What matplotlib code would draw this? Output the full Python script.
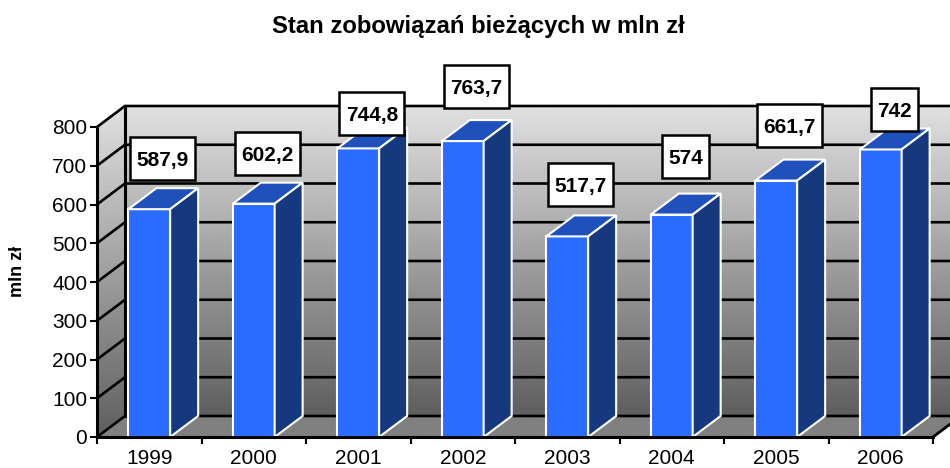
import numpy as np
import matplotlib
matplotlib.use('Agg')
import matplotlib.pyplot as plt
from matplotlib.patches import Polygon, Rectangle

plt.rcParams['font.family'] = ['Liberation Sans', 'DejaVu Sans']

years = ['1999', '2000', '2001', '2002', '2003', '2004', '2005', '2006']
values = [587.9, 602.2, 744.8, 763.7, 517.7, 574, 661.7, 742]
labels = ['587,9', '602,2', '744,8', '763,7', '517,7', '574', '661,7', '742']
# hand placed label boxes, centre above the bar top
label_dy = [130, 129, 89, 142, 133, 151, 143, 102]
yticks = [0, 100, 200, 300, 400, 500, 600, 700, 800]

W, H = 950, 468
px_x = 104.5         # pixels per category
px_y = 0.3875        # pixels per value unit
x0, y0 = 97, 437     # pixel position of the front corner
dx = 28 / px_x       # depth of the 3d box
dy = 21 / px_y
bar_w = 0.40

fig = plt.figure(figsize=(W / 100, H / 100), dpi=100)
ax = fig.add_axes([0, 0, 1, 1])
xlim = (-x0 / px_x, (W - x0) / px_x)
ylim = ((y0 - H) / px_y, y0 / px_y)

# walls
grad = np.linspace(0.88, 0.37, 256).reshape(-1, 1)
back = ax.imshow(grad, cmap='gray', vmin=0, vmax=1, aspect='auto', zorder=1,
                 extent=(dx, 8 + dx, dy, 800 + dy))
side = ax.imshow(grad, cmap='gray', vmin=0, vmax=1, aspect='auto', zorder=1,
                 extent=(0, dx, 0, 800 + dy))
side_poly = Polygon([(0, 0), (dx, dy), (dx, 800 + dy), (0, 800)], fc='none', ec='none',
                    transform=ax.transData)
ax.add_patch(side_poly)
side.set_clip_path(side_poly)
ax.add_patch(Polygon([(0, 0), (8, 0), (8 + dx, dy), (dx, dy)], fc='#808080', ec='none', zorder=1.5))

# grid lines
for v in yticks:
    ax.plot([0, dx, 8 + dx], [v, v + dy, v + dy], color='black', lw=1.9, zorder=2,
            solid_joinstyle='miter')
ax.plot([dx, dx], [dy, 800 + dy], color='black', lw=2.2, zorder=2)
ax.plot([8, 8 + dx], [0, dy], color='black', lw=2, zorder=2)

# bars
for i, v in enumerate(values):
    left = i + 0.5 - bar_w / 2
    right = left + bar_w
    ax.bar(i + 0.5, v, bar_w, color='#2a6cff', edgecolor='white', lw=1.5, zorder=3)
    ax.add_patch(Polygon([(left, v), (right, v), (right + dx, v + dy), (left + dx, v + dy)],
                         fc='#2050bc', ec='white', lw=1.5, zorder=3))
    ax.add_patch(Polygon([(right, 0), (right + dx, dy), (right + dx, v + dy), (right, v)],
                         fc='#15387f', ec='white', lw=1.5, zorder=3))
    # label box is taller than the text, so it is a patch and not a text bbox
    box_w = (20 + 9 * len(labels[i])) / px_x
    box_h = 43 / px_y
    cx = i + 0.63
    cy = v + label_dy[i]
    ax.add_patch(Rectangle((cx - box_w / 2, cy - box_h / 2), box_w, box_h, fc='white', ec='black',
                           lw=1.8, zorder=4))
    ax.text(cx, cy, labels[i], fontsize=15, fontweight='bold', ha='center', va='center_baseline',
            zorder=5)

# axes
ax.set_xlim(xlim)
ax.set_ylim(ylim)
ax.patch.set_visible(False)
for s in ['top', 'right']:
    ax.spines[s].set_visible(False)
ax.spines['left'].set_position(('data', 0))
ax.spines['left'].set_bounds(0, 800)
ax.spines['bottom'].set_position(('data', 0))
ax.spines['bottom'].set_bounds(0, 8)
ax.spines['left'].set_linewidth(2.2)
ax.spines['bottom'].set_linewidth(2.2)
ax.spines['left'].set_zorder(6)
ax.spines['bottom'].set_zorder(6)
ax.set_yticks(yticks)
ax.set_xticks(range(9))
ax.set_xticklabels([])
ax.set_xticks(np.arange(8) + 0.5, years, minor=True)
ax.tick_params(axis='y', labelsize=15, length=5, width=1.5, pad=2, colors='black')
ax.tick_params(axis='x', which='major', length=5, width=1.5)
ax.tick_params(axis='x', which='minor', length=0, labelsize=15, pad=9)

fig.text(478 / W, 1 - 26.5 / H, 'Stan zobowiązań bieżących w mln zł', fontsize=17.2, fontweight='bold',
         ha='center', va='center')
fig.text(17 / W, 1 - 271 / H, 'mln zł', fontsize=13, fontweight='bold', rotation=90,
         ha='center', va='center')

fig.savefig('out.png', dpi=100)
